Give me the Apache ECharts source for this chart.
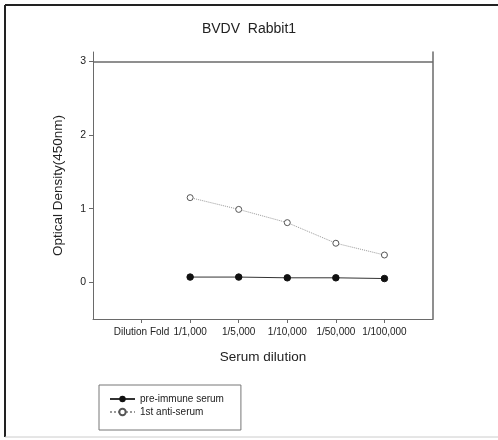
<!DOCTYPE html>
<html>
<head>
<meta charset="utf-8">
<script src="https://cdn.jsdelivr.net/npm/echarts@6/dist/echarts.min.js"></script>
<style>
  html, body { margin: 0; padding: 0; background: #fff; }
  #main-chart { width: 498px; height: 440px; }
</style>
</head>
<body>
<div id="main-chart"></div>
<script>
// ---- data ----
const categories = ['', 'Dilution Fold', '1/1,000', '1/5,000', '1/10,000', '1/50,000', '1/100,000', ''];
const preImmune  = [null, null, 0.07, 0.07, 0.06, 0.06, 0.05, null];
const antiSerum  = [null, null, 1.15, 0.99, 0.81, 0.53, 0.37, null];
const yTicks     = [0, 1, 2, 3];

const FONT = '"Liberation Sans", Arial, sans-serif';
const frameColor = '#6a6a6a';

const chart = echarts.init(document.getElementById('main-chart'));

chart.setOption({
    backgroundColor: '#fff',
    animation: false,
    textStyle: { fontFamily: FONT },
    title: {
        text: 'BVDV  Rabbit1',
        left: 'center',
        top: 17,
        textStyle: { fontSize: 14, fontWeight: 'normal', color: '#222', fontFamily: FONT }
    },
    legend: {
        orient: 'vertical',
        left: 99,
        top: 385,
        padding: [9, 17, 13, 10],
        itemGap: 3,
        itemWidth: 25,
        itemHeight: 8,
        borderColor: '#777',
        borderWidth: 1,
        textStyle: { fontSize: 10, color: '#222', fontFamily: FONT },
        data: ['pre-immune serum', '1st anti-serum']
    },
    grid: { left: 93, right: 65, top: 52, bottom: 121 },
    xAxis: {
        type: 'category',
        boundaryGap: false,
        data: categories,
        name: 'Serum dilution',
        nameLocation: 'middle',
        nameGap: 31,
        nameTextStyle: { fontSize: 13.5, color: '#222', fontFamily: FONT },
        axisLine: { onZero: false, lineStyle: { color: frameColor, width: 1 } },
        axisTick: {
            show: true, length: 4, lineStyle: { color: frameColor },
            interval: (i) => i > 0 && i < categories.length - 1
        },
        axisLabel: { interval: 0, fontSize: 10, color: '#222', margin: 8, fontFamily: FONT },
        splitLine: { show: false }
    },
    yAxis: [
        {
            type: 'value',
            min: -0.5,
            max: 3.13,
            name: 'Optical Density(450nm)',
            nameLocation: 'middle',
            nameGap: 28,
            nameTextStyle: { fontSize: 13.5, color: '#222', fontFamily: FONT },
            axisLine: { show: true, lineStyle: { color: frameColor, width: 1 } },
            axisTick: { show: true, length: 4, customValues: yTicks, lineStyle: { color: frameColor } },
            axisLabel: { customValues: yTicks, fontSize: 10.5, color: '#222', margin: 7, fontFamily: FONT },
            splitLine: { show: false }
        },
        {
            type: 'value',
            min: -0.5,
            max: 3.13,
            position: 'right',
            axisLine: { show: true, lineStyle: { color: frameColor, width: 1.5 } },
            axisTick: { show: false },
            axisLabel: { show: false },
            splitLine: { show: false }
        }
    ],
    series: [
        {
            name: 'pre-immune serum',
            type: 'line',
            data: preImmune,
            symbol: 'circle',
            symbolSize: 6.5,
            showSymbol: true,
            itemStyle: { color: '#111', borderColor: '#111' },
            lineStyle: { color: '#333', width: 1 },
            markLine: {
                silent: true,
                symbol: 'none',
                label: { show: false },
                lineStyle: { color: frameColor, width: 1.5, type: 'solid' },
                data: [{ yAxis: 3 }]
            }
        },
        {
            name: '1st anti-serum',
            type: 'line',
            data: antiSerum,
            symbol: 'circle',
            symbolSize: 6,
            showSymbol: true,
            itemStyle: { color: '#fff', borderColor: '#555', borderWidth: 1 },
            lineStyle: { color: '#999', width: 1, type: 'dotted' }
        }
    ],
    graphic: [
        // outer picture frame
        { type: 'line', shape: { x1: 5, y1: 5, x2: 498, y2: 5 }, style: { stroke: '#222', lineWidth: 2 } },
        { type: 'line', shape: { x1: 5, y1: 5, x2: 5, y2: 437 }, style: { stroke: '#222', lineWidth: 2 } },
        { type: 'line', shape: { x1: 5, y1: 437, x2: 498, y2: 437 }, style: { stroke: '#ccc', lineWidth: 1 } }
    ]
});

window.addEventListener('resize', () => chart.resize());
</script>
</body>
</html>
